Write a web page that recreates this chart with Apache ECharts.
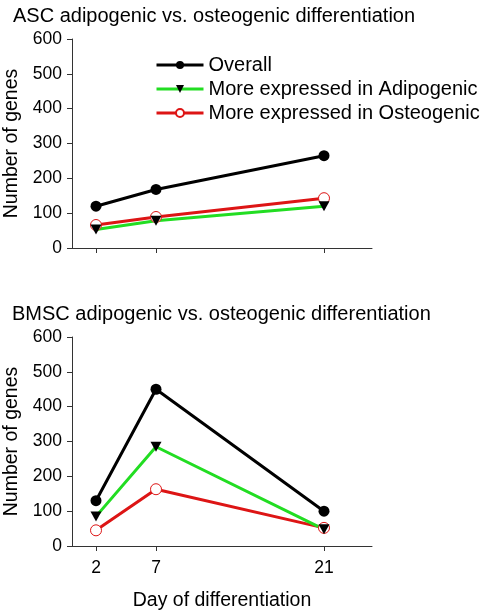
<!DOCTYPE html>
<html>
<head>
<meta charset="utf-8">
<script src="https://cdn.jsdelivr.net/npm/echarts@6/dist/echarts.min.js"></script>
<style>
html,body{margin:0;padding:0;background:#fff;}
#c{width:485px;height:614px;}
</style>
</head>
<body>
<div id="c"></div>
<script>
const days = [2, 7, 21];
const seriesNames = ['Overall', 'More expressed in Adipogenic', 'More expressed in Osteogenic'];
const ascOverall = [120, 168, 265];
const ascAdipo = [53, 78, 120];
const ascOsteo = [66, 89, 143];
const bmscOverall = [130, 450, 100];
const bmscAdipo = [85, 285, 48];
const bmscOsteo = [45, 163, 52];
const titles = ['ASC adipogenic vs. osteogenic differentiation', 'BMSC adipogenic vs. osteogenic differentiation'];
const yName = 'Number of genes';
const xName = 'Day of differentiation';

const FONT = '"Liberation Sans", Arial, sans-serif';
const AX = '#333';
const GREEN = '#22dd22';
const RED = '#dd1515';

function pairs(vals) { return days.map((d, i) => [d, vals[i]]); }

function xAxis(idx, showLabels) {
  return {
    gridIndex: idx, type: 'value', min: 0, max: 25,
    axisLine: { show: true, lineStyle: { color: AX, width: 1 } },
    axisTick: { show: true, customValues: days, length: 5, lineStyle: { color: AX } },
    axisLabel: { show: showLabels, customValues: days, color: '#000', fontSize: 17.5, fontFamily: FONT, margin: 13 },
    splitLine: { show: false },
    name: showLabels ? xName : '',
    nameLocation: 'middle', nameGap: 45,
    nameTextStyle: { color: '#000', fontSize: 19.5, fontFamily: FONT }
  };
}
function yAxis(idx) {
  return {
    gridIndex: idx, type: 'value', min: 0, max: 600, interval: 100,
    axisLine: { show: true, lineStyle: { color: AX, width: 1 } },
    axisTick: { show: true, length: 5, inside: false, lineStyle: { color: AX } },
    axisLabel: { color: '#000', fontSize: 17.5, fontFamily: FONT, margin: 10 },
    splitLine: { show: false },
    name: yName, nameLocation: 'middle', nameGap: 49, nameRotate: 90,
    nameTextStyle: { color: '#000', fontSize: 19.5, fontFamily: FONT }
  };
}
function mk(idx, overall, adipo, osteo) {
  return [
    { name: seriesNames[2], type: 'line', xAxisIndex: idx, yAxisIndex: idx, data: pairs(osteo),
      lineStyle: { color: RED, width: 3 }, itemStyle: { color: '#fff', borderColor: RED, borderWidth: 1 },
      symbol: 'circle', symbolSize: 11, animation: false },
    { name: seriesNames[1], type: 'line', xAxisIndex: idx, yAxisIndex: idx, data: pairs(adipo),
      lineStyle: { color: GREEN, width: 3 }, itemStyle: { color: '#000', borderColor: '#000', borderWidth: 0 },
      symbol: 'triangle', symbolRotate: 180, symbolSize: [11, 10], animation: false },
    { name: seriesNames[0], type: 'line', xAxisIndex: idx, yAxisIndex: idx, data: pairs(overall),
      lineStyle: { color: '#000', width: 3 }, itemStyle: { color: '#000', borderColor: '#000', borderWidth: 0 },
      symbol: 'circle', symbolSize: 11, animation: false }
  ];
}

const chart = echarts.init(document.getElementById('c'), null, { renderer: 'canvas' });
chart.setOption({
  backgroundColor: '#fff',
  animation: false,
  title: [
    { text: titles[0], left: 8, top: 1, textStyle: { fontSize: 20, fontWeight: 'normal', color: '#000', fontFamily: FONT } },
    { text: titles[1], left: 7, top: 299, textStyle: { fontSize: 20, fontWeight: 'normal', color: '#000', fontFamily: FONT } }
  ],
  legend: {
    data: seriesNames, orient: 'vertical', left: 150, top: 50,
    itemWidth: 47, itemHeight: 10, itemGap: 4,
    lineStyle: { width: 3 },
    textStyle: { fontSize: 20, color: '#000', fontFamily: FONT, padding: [0, 0, 0, 0] },
    selectedMode: false
  },
  grid: [
    { left: 72, top: 39, width: 300, height: 209, containLabel: false, outerBoundsMode: 'none' },
    { left: 72, top: 337, width: 300, height: 209, containLabel: false, outerBoundsMode: 'none' }
  ],
  xAxis: [xAxis(0, false), xAxis(1, true)],
  yAxis: [yAxis(0), yAxis(1)],
  series: [].concat(mk(0, ascOverall, ascAdipo, ascOsteo), mk(1, bmscOverall, bmscAdipo, bmscOsteo))
});
</script>
</body>
</html>
